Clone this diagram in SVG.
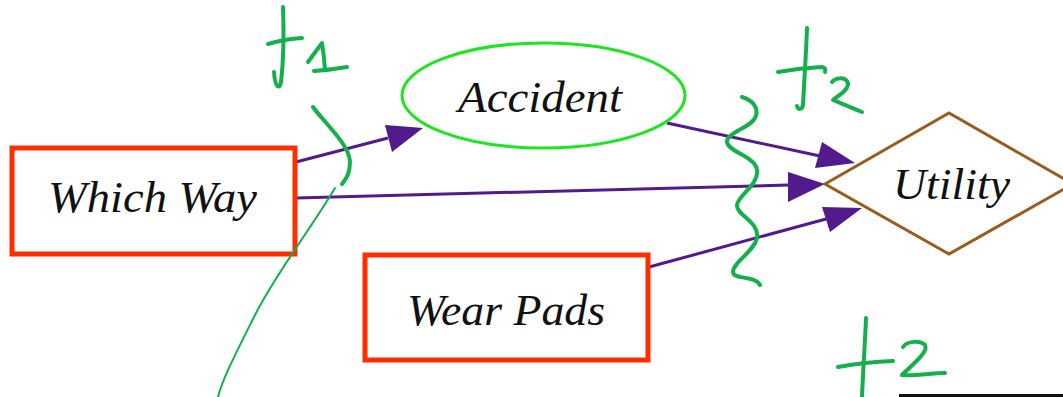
<svg xmlns="http://www.w3.org/2000/svg" width="1063" height="397" viewBox="0 0 1063 397">
<style>
.box{fill:#fff;stroke:#ff2d00;stroke-width:5}
.lbl{font-family:"Liberation Serif","Times New Roman",serif;font-style:italic;font-size:44px;fill:#111;text-anchor:middle}
.edge{stroke:#521a8c;stroke-width:3;fill:none}
.head{fill:#521a8c}
.ink{stroke:#14b04c;stroke-width:4;fill:none;stroke-linecap:round;stroke-linejoin:round}
.inkthin{stroke:#14b04c;stroke-width:2;fill:none;stroke-linecap:round}
</style>
<rect width="1063" height="397" fill="#fff"/>
<g id="connectors">
  <line class="edge" x1="296" y1="162" x2="388" y2="138"/>
  <polygon class="head" points="423,128 385,125 392,152"/>
  <line class="edge" x1="296" y1="198" x2="789" y2="185"/>
  <polygon class="head" points="825,184 788,172 788,202"/>
  <line class="edge" x1="667" y1="123" x2="820" y2="156"/>
  <polygon class="head" points="855,163 822,142 815,168"/>
  <line class="edge" x1="649" y1="267" x2="826" y2="219"/>
  <polygon class="head" points="862,208 822,207 830,232"/>
</g>
<g id="which-way">
  <rect class="box" x="12" y="148" width="283" height="106"/>
  <text class="lbl" x="152.5" y="212" textLength="209" lengthAdjust="spacingAndGlyphs">Which Way</text>
</g>
<g id="accident">
  <ellipse cx="543.5" cy="95.5" rx="141.5" ry="52.5" fill="#fff" stroke="#1ee61e" stroke-width="3"/>
  <text class="lbl" x="540" y="112" textLength="164" lengthAdjust="spacingAndGlyphs">Accident</text>
</g>
<g id="utility">
  <polygon points="825,184 949,113 1073,184 949,254" fill="#fff" stroke="#9a5b1f" stroke-width="3"/>
  <text class="lbl" x="951.5" y="199" textLength="117" lengthAdjust="spacingAndGlyphs">Utility</text>
</g>
<g id="wear-pads">
  <rect class="box" x="365" y="255" width="283" height="105"/>
  <text class="lbl" x="506" y="325" textLength="198" lengthAdjust="spacingAndGlyphs">Wear Pads</text>
</g>
<g id="annotations">
  <path class="ink" d="M283,7 C284,35 283,65 281,82 C280,90 275,88 274,72"/>
  <path class="ink" d="M268,44 Q285,39 302,38"/>
  <path class="ink" d="M308,62 L322,43 Q324,55 325,70"/>
  <path class="ink" d="M314,71 Q330,70 347,67"/>
  <path class="ink" d="M313,107 C322,120 350,145 350,162 C350,175 345,180 342,184"/>
  <path class="inkthin" d="M335,188 C310,230 275,275 255,315 C235,355 222,380 218,397"/>
  <path class="ink" d="M742,97 C752,100 760,108 755,118 C750,128 726,133 727,142 C728,152 755,156 757,170 C759,185 738,195 737,205 C736,215 760,222 757,238 C754,252 733,262 733,272 C733,280 755,275 760,285"/>
  <path class="ink" d="M807,28 C806,55 804,85 803,105 C802,110 798,110 797,106"/>
  <path class="ink" d="M778,72 Q800,68 822,67 Q826,68 825,72"/>
  <path class="ink" d="M832,82 C835,78 845,76 848,83 C849,90 838,96 833,100 C845,105 852,108 862,112"/>
  <path class="ink" d="M866,318 C865,345 863,370 862,397"/>
  <path class="ink" d="M838,367 Q865,362 893,361"/>
  <path class="ink" d="M903,347 C907,341 920,340 925,345 C929,352 912,365 902,375 C915,376 930,373 945,373"/>
  <rect x="899" y="394" width="164" height="3" fill="#111"/>
</g>
</svg>
